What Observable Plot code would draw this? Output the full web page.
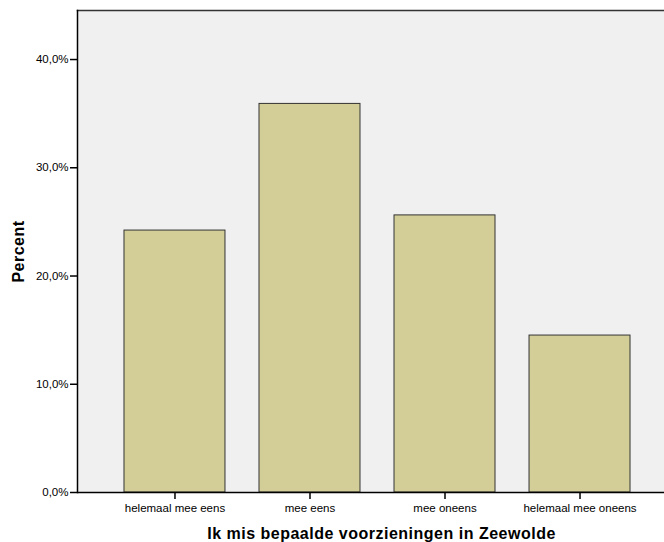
<!DOCTYPE html>
<html>
<head>
<meta charset="utf-8">
<script src="https://cdn.jsdelivr.net/npm/d3@7"></script>
<script src="https://cdn.jsdelivr.net/npm/@observablehq/plot@0.6"></script>
<style>
  html, body { margin: 0; padding: 0; background: #fff; overflow: hidden; }
  #chart { width: 664px; height: 542px; overflow: hidden; }
  #chart svg { max-width: none !important; width: 677px !important; height: 542px !important; font-family: "Liberation Sans", Arial, sans-serif; }
</style>
</head>
<body>
<div id="chart"></div>
<script>
const categories = ["helemaal mee eens", "mee eens", "mee oneens", "helemaal mee oneens"];
const percents = [24.2, 35.9, 25.6, 14.5];
const yTicks = [0, 10, 20, 30, 40];
const xTitle = "Ik mis bepaalde voorzieningen in Zeewolde";
const yTitle = "Percent";

const data = categories.map((c, i) => ({category: c, value: percents[i]}));
const fmt = v => v.toFixed(1).replace(".", ",") + "%";

const chart = Plot.plot({
  width: 677,
  height: 542,
  marginLeft: 77,
  marginRight: 0,
  marginTop: 10,
  marginBottom: 50,
  style: {fontFamily: "'Liberation Sans', Arial, sans-serif", fontSize: "11.5px", background: "#fff", overflow: "visible", maxWidth: "none"},
  x: {domain: categories, paddingInner: 0.252, paddingOuter: 0.348, round: false, label: null},
  y: {domain: [0, 44.53], label: null},
  marks: [
    Plot.frame({fill: "#f0f0f0", stroke: null}),
    Plot.barY(data, {x: "category", y: "value", fill: "#d3ce97", stroke: "#333", strokeWidth: 1}),
    Plot.ruleY([0], {stroke: "#000", strokeWidth: 1.5}),
    Plot.frame({anchor: "top", stroke: "#333", strokeWidth: 1.5}),
    Plot.frame({anchor: "left", stroke: "#000", strokeWidth: 1.5}),
    Plot.axisY({ticks: yTicks, tickFormat: fmt, tickSize: 7, tickPadding: 2, stroke: "#000", strokeWidth: 1.5, fill: "#000", fontSize: 11.5,
      label: yTitle, labelAnchor: "center", labelArrow: "none", labelOffset: 65}),
    Plot.axisX({tickSize: 7, tickPadding: 4, stroke: "#000", strokeWidth: 1.5, fill: "#000", fontSize: 11.5,
      label: xTitle, labelAnchor: "center", labelArrow: "none", labelOffset: 46})
  ]
});

chart.querySelectorAll("g[aria-label='y-axis label'] text, g[aria-label='x-axis label'] text").forEach(t => {
  t.setAttribute("font-weight", "bold");
  t.setAttribute("font-size", "16");
  t.setAttribute("letter-spacing", "0.5");
});
chart.querySelectorAll("g[aria-label='x-axis label'] text").forEach(t => t.setAttribute("dx", "4"));
document.getElementById("chart").appendChild(chart);
</script>
</body>
</html>
